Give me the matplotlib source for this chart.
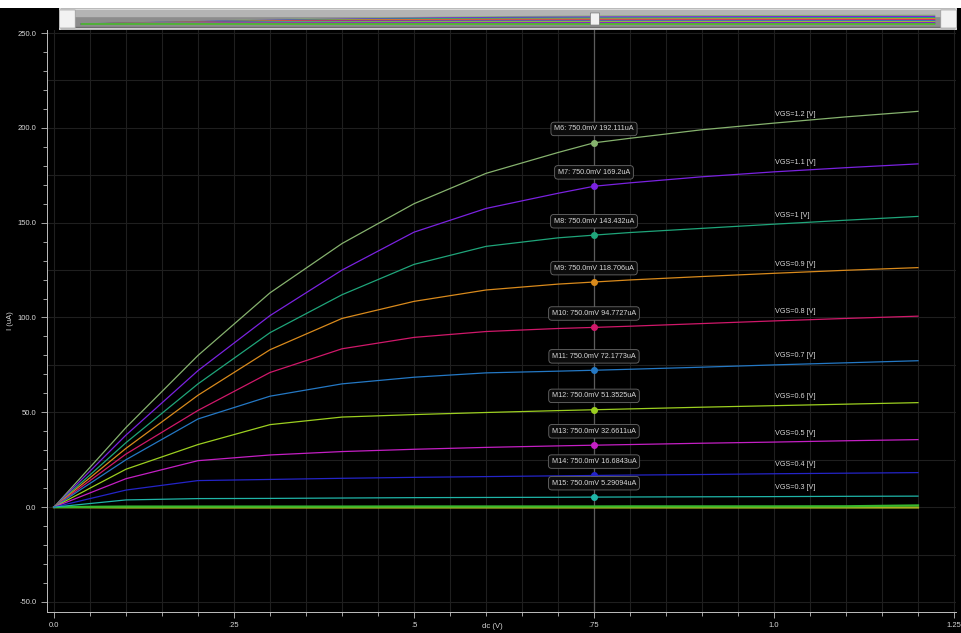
#!/usr/bin/env python3

import numpy as np
import matplotlib.pyplot as plt
from matplotlib.patches import Rectangle, FancyBboxPatch
from matplotlib.ticker import MultipleLocator, FixedLocator
plt.rc('font', family=['Liberation Sans', 'DejaVu Sans'], size=5.5)

# drain sweep (V)
vds = [0.0, 0.1, 0.2, 0.3, 0.4, 0.5, 0.6, 0.7, 0.75, 0.8, 0.9, 1.0, 1.1, 1.2]

# drain current (uA) for each gate voltage
ids_12 = [0, 42, 80, 113, 139, 160, 176, 187, 192.111, 194.5, 199.0, 202.5, 205.8, 208.7]
ids_11 = [0, 38, 72, 101, 125, 145, 157.5, 165.5, 169.2, 171.0, 174.2, 176.8, 179.0, 181.0]
ids_10 = [0, 34, 65, 92, 112, 128, 137.5, 142.0, 143.432, 144.8, 147.0, 149.2, 151.3, 153.3]
ids_09 = [0, 31, 59, 83, 99.5, 108.5, 114.5, 117.6, 118.706, 119.8, 121.6, 123.3, 124.9, 126.3]
ids_08 = [0, 28, 51, 71, 83.5, 89.5, 92.6, 94.2, 94.7727, 95.4, 96.8, 98.2, 99.5, 100.7]
ids_07 = [0, 25, 46.5, 58.5, 65.0, 68.5, 70.8, 71.7, 72.1773, 72.7, 73.8, 75.0, 76.1, 77.2]
ids_06 = [0, 20, 33, 43.5, 47.5, 48.8, 49.9, 50.9, 51.3525, 51.8, 52.7, 53.5, 54.3, 55.1]
ids_05 = [0, 15, 24.5, 27.5, 29.3, 30.5, 31.5, 32.3, 32.6611, 33.0, 33.7, 34.3, 35.0, 35.6]
ids_04 = [0, 9, 14.0, 14.6, 15.2, 15.7, 16.1, 16.5, 16.6843, 16.9, 17.2, 17.6, 17.9, 18.2]
ids_03 = [0, 3.8, 4.5, 4.6, 4.8, 5.0, 5.1, 5.2, 5.29094, 5.35, 5.45, 5.55, 5.7, 5.8]
ids_02 = [0, 0.3, 0.3, 0.3, 0.3, 0.35, 0.35, 0.35, 0.35, 0.4, 0.4, 0.4, 0.45, 0.9]
ids_01 = [0, -0.2, -0.2, -0.2, -0.2, -0.2, -0.2, -0.2, -0.2, -0.2, -0.2, -0.2, -0.2, -0.2]

curves = [ids_12, ids_11, ids_10, ids_09, ids_08, ids_07, ids_06, ids_05, ids_04, ids_03]
vgs_labels = ["VGS=1.2 [V]", "VGS=1.1 [V]", "VGS=1 [V]", "VGS=0.9 [V]", "VGS=0.8 [V]",
              "VGS=0.7 [V]", "VGS=0.6 [V]", "VGS=0.5 [V]", "VGS=0.4 [V]", "VGS=0.3 [V]"]
marker_names = ["M6", "M7", "M8", "M9", "M10", "M11", "M12", "M13", "M14", "M15"]
marker_text = ["192.111", "169.2", "143.432", "118.706", "94.7727",
               "72.1773", "51.3525", "32.6611", "16.6843", "5.29094"]
marker_vds = 0.75

COLOR_LIST = ["#86b26e", "#7a22e0", "#1fa57a", "#d98a1c", "#d0186a",
              "#2478c4", "#9ccf20", "#c41fc4", "#2424c8", "#1fb5a8"]
LOW_COLORS = ["#a8b020", "#38b82c"]
BG = "#000000"
TEXT = "#d8d8d8"


def main(png_file):
  figure = plt.figure(figsize=(9.62, 6.33), dpi=100)
  figure.patch.set_facecolor(BG)
  W, H = 962.0, 633.0

  axes = figure.add_axes([47 / W, 21 / H, 909 / W, 582 / H])
  axes.set_facecolor(BG)
  axes.set_xlim(-7 / 720, 902 / 720)
  axes.set_ylim(-55.3, 251.6)

  # grid every 0.05 V and 25 uA
  axes.xaxis.set_major_locator(FixedLocator([0.0, 0.25, 0.5, 0.75, 1.0, 1.25]))
  axes.xaxis.set_minor_locator(MultipleLocator(0.05))
  axes.yaxis.set_major_locator(MultipleLocator(50))
  axes.yaxis.set_minor_locator(MultipleLocator(10))
  for gx in np.arange(0.0, 1.26, 0.05):
    axes.axvline(gx, color="#1f1f1f", lw=0.8, zorder=0)
  for gy in np.arange(-50, 251, 25):
    axes.axhline(gy, color="#1f1f1f", lw=0.8, zorder=0)
  axes.axvline(marker_vds, color="#5c5c5c", lw=0.9, zorder=1)

  axes.set_xticklabels(["0.0", ".25", ".5", ".75", "1.0", "1.25"])
  axes.set_yticklabels(["%.1f" % v for v in axes.get_yticks()])
  axes.tick_params(which="both", colors="#bdbdbd", direction="out", labelcolor=TEXT,
                   labelsize=5.5, width=0.6)
  axes.tick_params(which="major", length=4)
  axes.tick_params(which="minor", length=3)
  axes.tick_params(axis="x", pad=3)
  for side in ["top", "right"]:
    axes.spines[side].set_visible(False)
  for side in ["left", "bottom"]:
    axes.spines[side].set_color("#bdbdbd")
    axes.spines[side].set_linewidth(0.7)

  axes.set_xlabel("dc (V)", color=TEXT, fontsize=5.5)
  axes.xaxis.set_label_coords(0.49, -0.0195)
  axes.set_ylabel("I (uA)", color=TEXT, fontsize=5.5, labelpad=3)

  # near-off gate voltages hug the zero line
  for ids, color in zip([ids_01, ids_02], LOW_COLORS):
    axes.plot(vds, ids, color=color, lw=1.6, zorder=2)

  for ids, color, label in zip(curves, COLOR_LIST, vgs_labels):
    axes.plot(vds, ids, color=color, lw=0.9, zorder=3)
    axes.annotate(label, (1.0, np.interp(1.0, vds, ids)), xytext=(0.5, 6.5),
                  textcoords="offset points", ha="left", va="center",
                  color=TEXT, fontsize=5.2)

  for ids, color, name, text in zip(curves, COLOR_LIST, marker_names, marker_text):
    value = np.interp(marker_vds, vds, ids)
    axes.plot([marker_vds], [value], "o", ms=4, color=color, mec=color, zorder=5)
    axes.annotate("%s: %.1fmV %suA" % (name, marker_vds * 1000, text),
                  (marker_vds, value), xytext=(0, 10), textcoords="offset points",
                  ha="center", va="center", color=TEXT, fontsize=5.2, zorder=6,
                  bbox=dict(boxstyle="round,pad=0.45", fc="#0c0c0c", ec="#6a6a6a", lw=0.6))

  # white strip and overview scroll bar across the top
  figure.patches.append(Rectangle((0, 1 - 8 / H), 1, 8 / H, transform=figure.transFigure,
                                  fc="white", ec="none", zorder=0))
  scroll = figure.add_axes([60 / W, 1 - 29 / H, 896 / W, 20 / H])
  scroll.set_facecolor("#8c8c8c")
  scroll.set_xlim(-0.03, 1.23)
  scroll.set_ylim(-120, 360)
  scroll.set_xticks([])
  scroll.set_yticks([])
  for spine in scroll.spines.values():
    spine.set_color("#e0e0e0")
    spine.set_linewidth(1.2)
  scroll.axhspan(200, 360, color="#b4b4b4", zorder=0)
  scroll.axhspan(-120, -60, color="#6c6c6c", zorder=0)
  for ids, color in zip(curves + [ids_01, ids_02], COLOR_LIST + LOW_COLORS):
    scroll.plot(vds, ids, color=color, lw=0.9)
  for cap in [0.0, 0.985]:
    scroll.add_patch(FancyBboxPatch((cap, 0.05), 0.015, 0.9, boxstyle="round,pad=0.002",
                                    transform=scroll.transAxes, fc="#f2f2f2", ec="#9a9a9a",
                                    lw=0.5, zorder=4))
  scroll.add_patch(FancyBboxPatch((0.594, 0.2), 0.006, 0.6, boxstyle="round,pad=0.002",
                                  transform=scroll.transAxes, fc="#f2f2f2", ec="#7a7a7a",
                                  lw=0.5, zorder=4))

  plt.savefig(png_file, facecolor=BG)


if __name__ == "__main__":
  main("out.png")
